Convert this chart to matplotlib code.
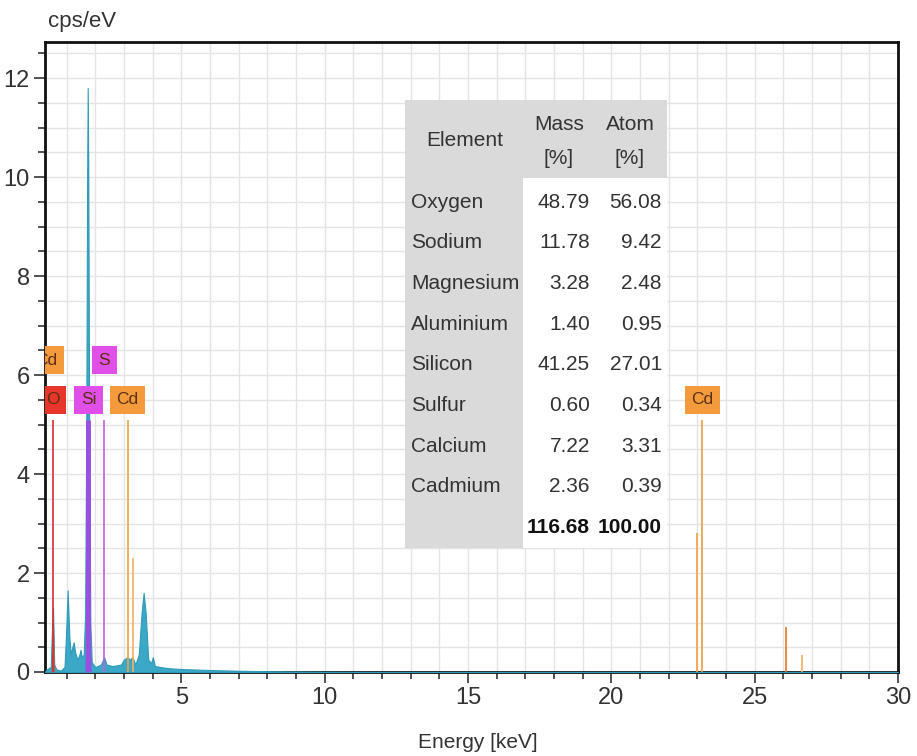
import numpy as np
import matplotlib.pyplot as plt
from matplotlib.ticker import MultipleLocator
from matplotlib.patches import Rectangle

plt.rcParams['font.family'] = ['Liberation Sans', 'DejaVu Sans']

# spectrum (keV, cps/eV)
energy = [0.25, 0.30, 0.45, 0.49, 0.53, 0.57, 0.65, 0.80, 0.93, 0.98, 1.04, 1.10,
          1.15, 1.20, 1.25, 1.30, 1.38, 1.45, 1.49, 1.53, 1.60, 1.65, 1.69, 1.72,
          1.74, 1.76, 1.79, 1.83, 1.88, 2.00, 2.20, 2.31, 2.40, 2.60, 2.90, 3.00,
          3.13, 3.20, 3.30, 3.40, 3.52, 3.62, 3.69, 3.76, 3.85, 3.95, 4.01, 4.08,
          4.50, 5.00, 6.00, 7.00, 8.00, 9.00, 10.0, 12.0, 30.0]
counts = [0.0, 0.05, 0.10, 0.8, 1.3, 0.15, 0.05, 0.03, 0.10, 0.7, 1.65, 0.7,
          0.35, 0.50, 0.60, 0.40, 0.25, 0.35, 0.45, 0.30, 0.35, 1.2, 5.0, 10.0,
          11.8, 10.0, 5.0, 1.0, 0.20, 0.10, 0.15, 0.30, 0.15, 0.12, 0.15, 0.25,
          0.30, 0.25, 0.30, 0.15, 0.35, 1.2, 1.6, 1.2, 0.25, 0.18, 0.30, 0.12,
          0.08, 0.06, 0.04, 0.025, 0.015, 0.008, 0.003, 0.0, 0.0]

# fitted element overlays
o_energy = [0.46, 0.50, 0.525, 0.55, 0.59]
o_counts = [0.0, 0.9, 1.3, 0.9, 0.0]
si_energy = [1.64, 1.69, 1.74, 1.79, 1.86]
si_counts = [0.0, 2.0, 2.6, 2.0, 0.0]

# marker lines: (energy, height, colour)
line_energy = [0.525, 1.74, 2.31, 3.13, 3.32, 23.00, 23.17, 26.10, 26.65]
line_height = [5.1, 5.1, 5.1, 5.1, 2.3, 2.8, 5.1, 0.9, 0.34]
line_color = ['#d93030', '#9a4fe0', '#c060d8', '#f0a040', '#f0b060',
              '#f0a040', '#e8a040', '#e87820', '#f0b060']

# element labels
label_text = ['Cd', 'O', 'Si', 'S', 'Cd', 'Cd']
label_energy = [0.30, 0.525, 1.77, 2.32, 3.13, 23.17]
label_y = [6.3, 5.5, 5.5, 6.3, 5.5, 5.5]
label_color = ['#f39a3c', '#e8352b', '#e050e8', '#e050e8', '#f39a3c', '#f39a3c']

# quantification table
elements = ['Oxygen', 'Sodium', 'Magnesium', 'Aluminium', 'Silicon', 'Sulfur',
            'Calcium', 'Cadmium']
mass_pct = ['48.79', '11.78', '3.28', '1.40', '41.25', '0.60', '7.22', '2.36']
atom_pct = ['56.08', '9.42', '2.48', '0.95', '27.01', '0.34', '3.31', '0.39']
mass_total = '116.68'
atom_total = '100.00'

W, H = 917, 756
fig = plt.figure(figsize=(W / 100, H / 100), dpi=100)
ax = fig.add_axes([45 / W, 1 - 672 / H, (898 - 45) / W, (672 - 42) / H])


def fx(px):
    return px / W


def fy(py):
    return 1 - py / H


ax.fill_between(energy, counts, color='#3aa8c6', linewidth=0.8, edgecolor='#2f9bb8', zorder=3)
ax.fill_between(o_energy, o_counts, color='#b0604a', alpha=0.8, linewidth=0, zorder=4)
ax.fill_between(si_energy, si_counts, color='#8a4fe0', alpha=0.8, linewidth=0, zorder=4)

for e, h, c in zip(line_energy, line_height, line_color):
    lw = 3.5 if e == 1.74 else 1.2
    ax.vlines(e, 0, h, color=c, linewidth=lw, zorder=5)

for t, e, y, c in zip(label_text, label_energy, label_y, label_color):
    ax.text(e, y, t, ha='center', va='center', fontsize=12.5, color='#5a3010',
            bbox=dict(boxstyle='square,pad=0.38', fc=c, ec='none'), zorder=6, clip_on=True)

ax.set_xlim(0.25, 30)
ax.set_ylim(0, 12.73)
ax.xaxis.set_major_locator(MultipleLocator(5))
ax.xaxis.set_minor_locator(MultipleLocator(1))
ax.yaxis.set_major_locator(MultipleLocator(2))
ax.yaxis.set_minor_locator(MultipleLocator(0.5))
ax.grid(which='both', color='#e4e4e4', linewidth=1, zorder=0)
ax.set_axisbelow(True)
ax.tick_params(which='major', length=8, width=1.2, labelsize=17, colors='#333333', pad=3)
ax.tick_params(which='minor', length=5, width=1.2, colors='#333333')
for s in ax.spines.values():
    s.set_linewidth(2)
    s.set_color('#111111')

fig.text(fx(48), fy(22), 'cps/eV', fontsize=16, color='#333333', va='center')
fig.text(fx(478), fy(742), 'Energy [keV]', fontsize=15, color='#333333', ha='center', va='center')

# table backgrounds
gray = '#dadada'
fig.patches.append(Rectangle((fx(405), fy(178)), fx(667 - 405), (178 - 100) / H,
                             transform=fig.transFigure, fc=gray, ec='none', zorder=10))
fig.patches.append(Rectangle((fx(405), fy(548)), fx(523 - 405), (548 - 178) / H,
                             transform=fig.transFigure, fc=gray, ec='none', zorder=10))
fig.patches.append(Rectangle((fx(523), fy(548)), fx(667 - 523), (548 - 178) / H,
                             transform=fig.transFigure, fc='white', ec='none', zorder=10))

tc = '#333333'
fs = 15
fig.text(fx(465), fy(141), 'Element', fontsize=fs, color=tc, ha='center', va='center', zorder=11)
fig.text(fx(559), fy(124), 'Mass', fontsize=fs, color=tc, ha='center', va='center', zorder=11)
fig.text(fx(559), fy(158), '[%]', fontsize=fs, color=tc, ha='center', va='center', zorder=11)
fig.text(fx(630), fy(124), 'Atom', fontsize=fs, color=tc, ha='center', va='center', zorder=11)
fig.text(fx(630), fy(158), '[%]', fontsize=fs, color=tc, ha='center', va='center', zorder=11)
for i, (el, m, a) in enumerate(zip(elements, mass_pct, atom_pct)):
    y = fy(202 + i * 40.7)
    fig.text(fx(411), y, el, fontsize=fs, color=tc, ha='left', va='center', zorder=11)
    fig.text(fx(590), y, m, fontsize=fs, color=tc, ha='right', va='center', zorder=11)
    fig.text(fx(662), y, a, fontsize=fs, color=tc, ha='right', va='center', zorder=11)
y = fy(202 + 8 * 40.7)
fig.text(fx(590), y, mass_total, fontsize=fs, color='#111111', ha='right', va='center',
         fontweight='bold', zorder=11)
fig.text(fx(662), y, atom_total, fontsize=fs, color='#111111', ha='right', va='center',
         fontweight='bold', zorder=11)

fig.savefig('out.png', dpi=100)
